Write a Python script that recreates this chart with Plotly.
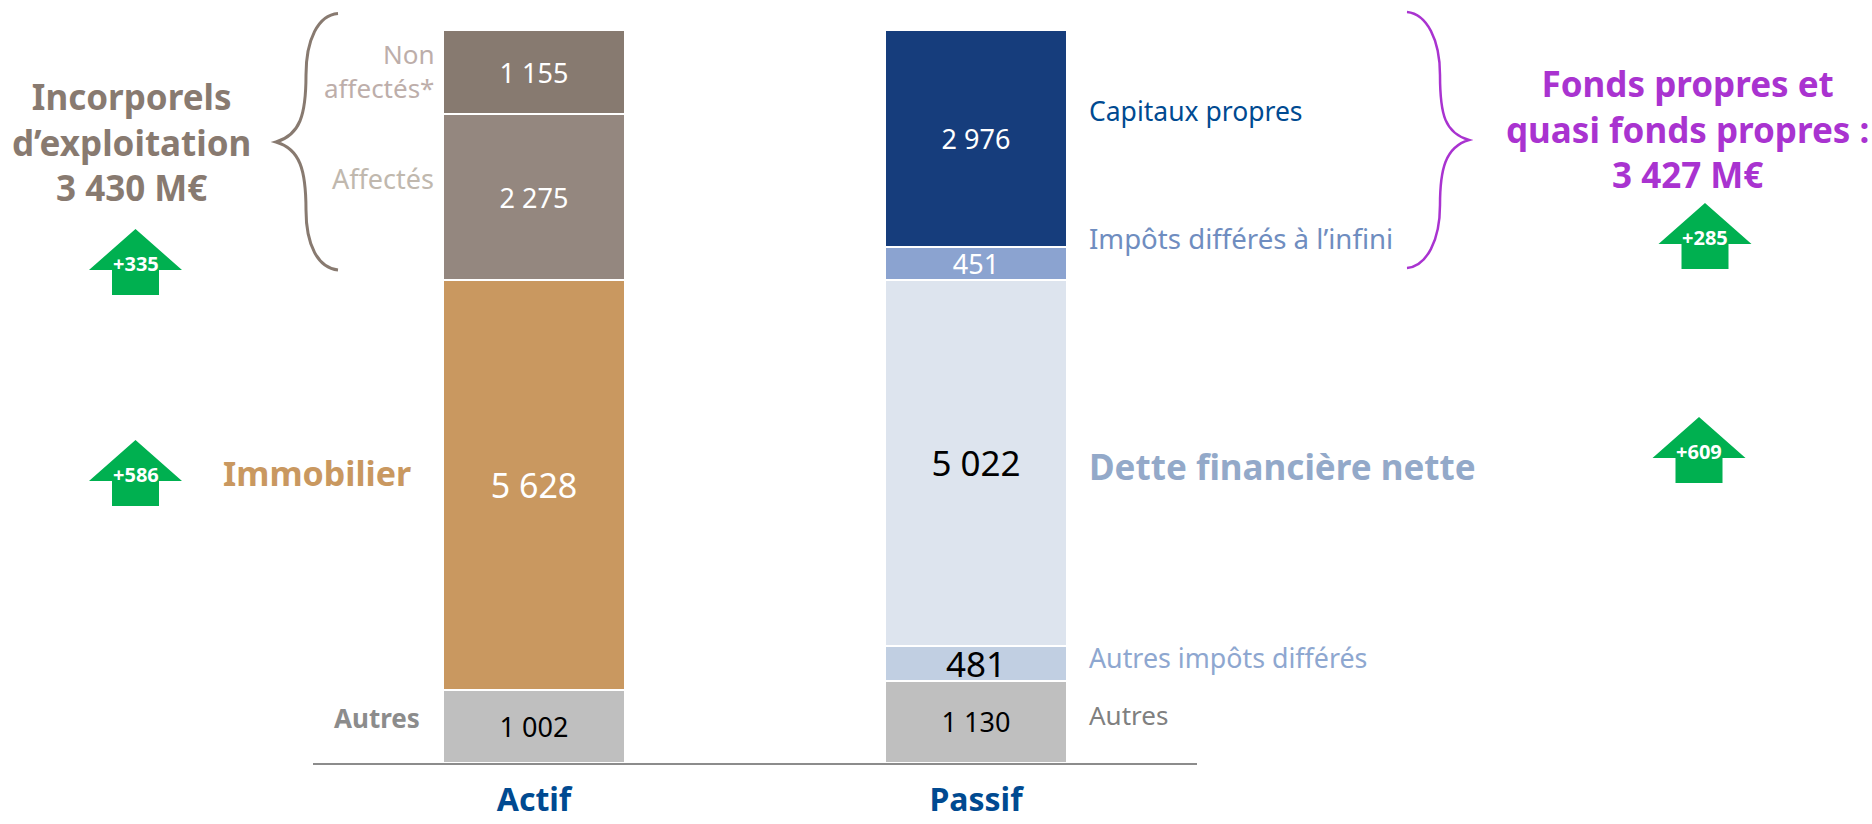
import plotly.graph_objects as go

W, H = 1872, 824
FONT = "Noto Sans"

categories = ["Actif", "Passif"]

seg_names = ["Autres actif", "Immobilier", "Affectés", "Non affectés",
             "Autres passif", "Autres impôts différés", "Dette financière nette",
             "Impôts différés à l'infini", "Capitaux propres"]
seg_cats = ["Actif", "Actif", "Actif", "Actif",
            "Passif", "Passif", "Passif", "Passif", "Passif"]
seg_values = [1002, 5628, 2275, 1155, 1130, 481, 5022, 451, 2976]
seg_labels = ["1 002", "5 628", "2 275", "1 155", "1 130", "481", "5 022", "451", "2 976"]
seg_colors = ["#bfbfbf", "#c99860", "#94877f", "#877a70",
              "#bfbfbf", "#c1cfe2", "#dde4ee", "#8ba3d0", "#163d7c"]
seg_text_colors = ["#000000", "#ffffff", "#ffffff", "#ffffff",
                   "#000000", "#000000", "#000000", "#ffffff", "#ffffff"]
seg_text_sizes = [27, 34, 27, 27, 27, 35, 35, 27, 27]

# free text: text, x px, y px, anchor, colour, size, bold
texts = [
    ("Incorporels<br>d’exploitation<br>3 430 M€", 131, 142, "center", "#887a70", 35, True),
    ("Non<br>affectés*", 436, 71, "right", "#bdaeaa", 26, False),
    ("Affectés", 436, 178, "right", "#c0b8ae", 27, False),
    ("Immobilier", 413, 473, "right", "#c99860", 34, True),
    ("Autres", 422, 718, "right", "#8c8c8c", 26, True),
    ("Capitaux propres", 1087, 111, "left", "#004a91", 26.5, False),
    ("Impôts différés à l’infini", 1087, 238, "left", "#6f8dc0", 27.6, False),
    ("Dette financière nette", 1087, 466, "left", "#93a9c9", 35, True),
    ("Autres impôts différés", 1087, 657, "left", "#8ea7d0", 26.8, False),
    ("Autres", 1087, 715, "left", "#808080", 26, False),
    ("Fonds propres et<br>quasi fonds propres :<br>3 427 M€", 1687, 129, "center", "#a933d0", 35, True),
]

# change arrows: label, apex x, apex y
arrows = [("+335", 135.5, 229), ("+586", 135.5, 440),
          ("+285", 1705, 203), ("+609", 1699, 417)]


def px(x):
    return x / W


def py(y):
    return 1 - y / H


def path(cmds):
    out = []
    for c in cmds:
        if isinstance(c, str):
            out.append(c)
        else:
            out.append(f"{px(c[0]):.5f},{py(c[1]):.5f}")
    return " ".join(out)


fig = go.Figure()
for n, c, v, l, col, tc, ts in zip(seg_names, seg_cats, seg_values, seg_labels,
                                   seg_colors, seg_text_colors, seg_text_sizes):
    fig.add_bar(name=n, x=[c], y=[v], text=[l], textposition="inside",
                insidetextanchor="middle", textangle=0, constraintext="none",
                textfont=dict(family=FONT, size=ts, color=tc),
                marker=dict(color=col, line=dict(color="white", width=2)),
                showlegend=False)

shapes = []
shapes.append(dict(type="path", xref="paper", yref="paper",
                   line=dict(color="#887a70", width=3),
                   path=path(["M", (338, 13.5), "C", (318, 15), (306, 40), (306, 75),
                              "C", (306, 115), (300, 135), (276, 142),
                              "C", (300, 149), (306, 170), (306, 210),
                              "C", (306, 245), (318, 268), (338, 270)])))
shapes.append(dict(type="path", xref="paper", yref="paper",
                   line=dict(color="#a933d0", width=2.5),
                   path=path(["M", (1407, 12), "C", (1427, 14), (1440, 40), (1440, 75),
                              "C", (1440, 115), (1445, 133), (1469, 140),
                              "C", (1445, 147), (1440, 170), (1440, 205),
                              "C", (1440, 240), (1427, 266), (1407, 268)])))

annotations = []
for t, x, y, anc, col, size, bold in texts:
    annotations.append(dict(xref="paper", yref="paper", x=px(x), y=py(y),
                            text="<br>".join(f"<b>{p}</b>" for p in t.split("<br>")) if bold else t,
                            align=anc,
                            showarrow=False, xanchor=anc, yanchor="middle",
                            font=dict(family=FONT, size=size, color=col)))

for lab, ax, ay in arrows:
    shapes.append(dict(type="path", xref="paper", yref="paper", fillcolor="#00b050",
                       line=dict(width=0),
                       path=path(["M", (ax, ay), "L", (ax + 46.5, ay + 41), "L", (ax + 23.5, ay + 41),
                                  "L", (ax + 23.5, ay + 66), "L", (ax - 23.5, ay + 66),
                                  "L", (ax - 23.5, ay + 41), "L", (ax - 46.5, ay + 41), "Z"])))
    annotations.append(dict(xref="paper", yref="paper", x=px(ax), y=py(ay + 34),
                            text=f"<b>{lab}</b>",
                            showarrow=False, xanchor="center", yanchor="middle",
                            font=dict(family=FONT, size=20, color="white")))

fig.update_layout(
    width=W, height=H, barmode="stack", bargap=0.59,
    margin=dict(l=0, r=0, t=0, b=0), paper_bgcolor="white", plot_bgcolor="white",
    shapes=shapes, annotations=annotations,
    xaxis=dict(domain=[313 / W, 1197 / W], type="category", categoryorder="array",
               categoryarray=categories, range=[-0.5, 1.5], showgrid=False, zeroline=False,
               automargin=False,
               showline=True, linecolor="#8c8c8c", linewidth=2, ticks="",
               ticklabelstandoff=8,
               tickfont=dict(family=FONT, size=32, color="#004a91", weight="bold")),
    yaxis=dict(domain=[1 - 763 / H, 1 - 30 / H], range=[0, 10060], visible=False, automargin=False),
)

fig.write_html("out.html", config={"displayModeBar": False},
               post_script="document.body.style.margin='0';document.body.style.overflow='hidden';")
